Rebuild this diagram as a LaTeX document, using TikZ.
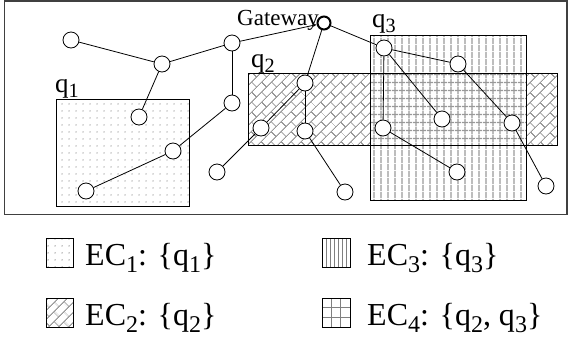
\documentclass[tikz,border=0pt]{standalone}
\usepackage{fontspec}
\setmainfont{Liberation Serif}
\usetikzlibrary{patterns.meta,arrows.meta}
\newcommand{\sbs}[1]{\raisebox{-0.22em}{\scalebox{0.75}{#1}}}
\tikzdeclarepattern{
  name=mydots, type=uncolored,
  bounding box={(0pt,0pt) and (6.5pt,6.5pt)},
  tile size={(6.5pt,6.5pt)},
  code={\fill (3.25pt,3.25pt) circle (0.75pt);}
}
\tikzdeclarepattern{
  name=myvlines, type=uncolored,
  bounding box={(0pt,0pt) and (6.5pt,6.5pt)},
  tile size={(6.5pt,6.5pt)},
  code={\fill (2.5pt,-0.1pt) rectangle (4pt,6.6pt);}
}
\tikzdeclarepattern{
  name=mygrid, type=uncolored,
  bounding box={(0pt,0pt) and (6.5pt,8pt)},
  tile size={(6.5pt,8pt)},
  code={\fill (2.5pt,-0.1pt) rectangle (4pt,8.1pt);
        \fill (-0.1pt,3.3pt) rectangle (6.6pt,4.7pt);}
}
\tikzdeclarepattern{
  name=mybricks, type=uncolored,
  bounding box={(0pt,0pt) and (14pt,14pt)},
  tile size={(14pt,14pt)},
  tile transformation={rotate=45},
  code={\draw[line width=1pt] (-0.5pt,3.5pt)--(14.5pt,3.5pt) (-0.5pt,10.5pt)--(14.5pt,10.5pt)
        (3.5pt,3.5pt)--(3.5pt,10.5pt) (10.5pt,10.5pt)--(10.5pt,14.5pt) (10.5pt,-0.5pt)--(10.5pt,3.5pt);}
}
\begin{document}
\begin{tikzpicture}[x=1pt,y=-1pt,
  nd/.style={circle,draw,fill=white,inner sep=0pt,minimum size=16pt,line width=0.8pt},
  gw/.style={circle,draw,fill=white,inner sep=0pt,minimum size=13pt,line width=2pt},
  edge/.style={line width=0.8pt},
  reg/.style={draw,line width=0.9pt},
  qlab/.style={font=\fontsize{27}{27}\selectfont,anchor=base west,inner sep=0pt},
  glab/.style={font=\fontsize{23}{23}\selectfont,anchor=base west,inner sep=0pt},
  leg/.style={font=\fontsize{32}{32}\selectfont,anchor=base west,inner sep=0pt}]
\useasboundingbox (0,0) rectangle (568,341);
% frame
\draw[line width=1.2pt,black!75] (4.5,1) rectangle (567,214.5);
% regions
\fill[white] (56,99) rectangle (189,206);
\path[pattern={mydots},pattern color=black!45] (56,99) rectangle (189,206);
\draw[reg] (56,99) rectangle (189,206);
\path[pattern={mybricks},pattern color=black!40] (248,73) rectangle (557,145);
\path[pattern={myvlines},pattern color=black!40] (370,35) rectangle (526,200);
\fill[white] (370,73) rectangle (526,145);
\path[pattern={mygrid},pattern color=black!40] (370,73) rectangle (526,145);
\draw[reg] (248,73) rectangle (557,145);
\draw[reg] (370,35) rectangle (526,200);
% labels
\node[qlab] (lq1) at (55,92) {q\sbs{1}};
\node[qlab] (lq2) at (251,67) {q\sbs{2}};
\node[qlab] (lq3) at (372,27) {q\sbs{3}};
\node[glab] (lgw) at (237,25) {Gateway};
% nodes
\node[nd] (A) at (71,40) {};
\node[nd] (B) at (162,64) {};
\node[nd] (C) at (232,43) {};
\node[nd] (D) at (139,117) {};
\node[nd] (E) at (232,103) {};
\node[nd] (F) at (173,151) {};
\node[nd] (G) at (86,191) {};
\node[nd] (H) at (217,172) {};
\node[nd] (I) at (261,128) {};
\node[gw] (GW) at (324,23) {};
\node[nd] (J) at (305,83) {};
\node[nd] (K) at (305,131) {};
\node[nd] (L) at (345,192) {};
\node[nd] (M) at (384,48) {};
\node[nd] (N) at (458,64) {};
\node[nd] (O) at (442,119) {};
\node[nd] (P) at (383,128) {};
\node[nd] (Q) at (512,123) {};
\node[nd] (R) at (457,172) {};
\node[nd] (S) at (546,186) {};
% edges
\draw[edge] (A) -- (B);
\draw[edge] (B) -- (C);
\draw[edge,-{Stealth[length=4pt,width=3pt]}] (C) -- (GW);
\draw[edge] (B) -- (D);
\draw[edge] (C) -- (E);
\draw[edge] (E) -- (F);
\draw[edge] (F) -- (G);
\draw[edge] (H) -- (I);
\draw[edge] (GW) -- (J);
\draw[edge] (J) -- (I);
\draw[edge] (J) -- (K);
\draw[edge] (K) -- (L);
\draw[edge] (GW) -- (M);
\draw[edge] (M) -- (N);
\draw[edge] (M) -- (O);
\draw[edge] (M) -- (P);
\draw[edge] (P) -- (R);
\draw[edge] (N) -- (Q);
\draw[edge] (Q) -- (S);
% legend
\path[pattern={mydots},pattern color=black!45] (46,238) rectangle (73,267);
\draw[line width=0.8pt] (46,238) rectangle (73,267);
\path[pattern={mybricks},pattern color=black!40] (46,298) rectangle (73,327);
\draw[line width=0.8pt] (46,298) rectangle (73,327);
\foreach \xx in {326,330,334,338,342,346} \draw[black!50,line width=1pt] (\xx,238) -- (\xx,267);
\draw[line width=0.8pt] (322,238) rectangle (350,267);
\draw[black!50,line width=1.2pt] (331.3,298) -- (331.3,327) (340.7,298) -- (340.7,327) (322,307.7) -- (350,307.7) (322,317.3) -- (350,317.3);
\draw[line width=0.8pt] (322,298) rectangle (350,327);
\node[leg] (ec1) at (85,265) {EC\sbs{1}: \{q\sbs{1}\}};
\node[leg] (ec2) at (85,325) {EC\sbs{2}: \{q\sbs{2}\}};
\node[leg] (ec3) at (367,265) {EC\sbs{3}: \{q\sbs{3}\}};
\node[leg] (ec4) at (367,325) {EC\sbs{4}: \{q\sbs{2}, q\sbs{3}\}};
\end{tikzpicture}
\end{document}
